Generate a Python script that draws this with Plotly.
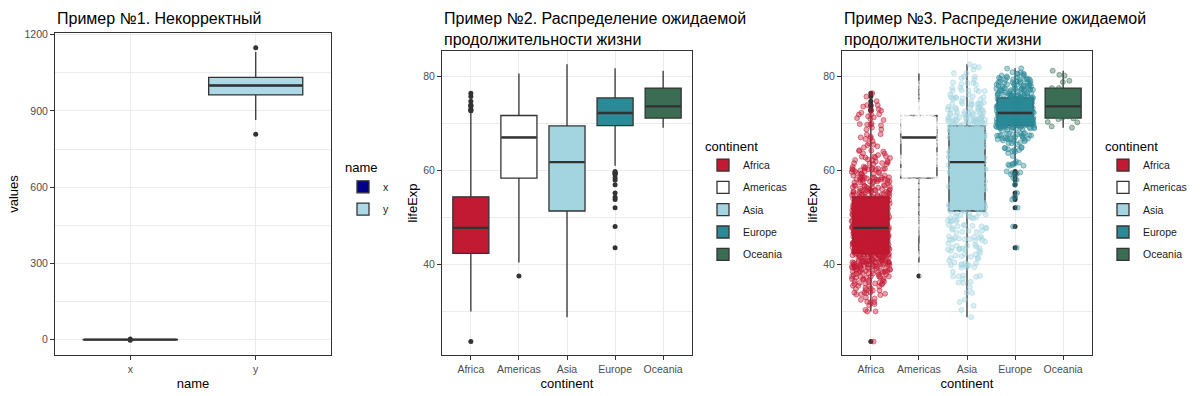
import numpy as np
import plotly.graph_objects as go
import plotly.express as px

# ---------------- Panel 1: precomputed box statistics
p1_names = ["x", "y"]
p1_q1 = [-0.67, 963]
p1_median = [0.0, 1000]
p1_q3 = [0.67, 1032]
p1_lowerfence = [-2.4, 864]
p1_upperfence = [2.4, 1132]
p1_outlier_names = ["x", "x", "y", "y"]
p1_outlier_values = [2.8, -2.7, 1149, 808]
p1_colors = ["#00008B", "#ADD8E6"]

# ---------------- Panels 2 & 3: gapminder life expectancy (bundled with plotly)
gm = px.data.gapminder()
continents = ["Africa", "Americas", "Asia", "Europe", "Oceania"]
africa_lifeexp = gm.loc[gm.continent == "Africa", "lifeExp"].tolist()
americas_lifeexp = gm.loc[gm.continent == "Americas", "lifeExp"].tolist()
asia_lifeexp = gm.loc[gm.continent == "Asia", "lifeExp"].tolist()
europe_lifeexp = gm.loc[gm.continent == "Europe", "lifeExp"].tolist()
oceania_lifeexp = gm.loc[gm.continent == "Oceania", "lifeExp"].tolist()
lifeexp_by_continent = [africa_lifeexp, americas_lifeexp, asia_lifeexp,
                        europe_lifeexp, oceania_lifeexp]
continent_colors = ["#C21A33", "#FFFFFF", "#A2D5E0", "#2C8A98", "#3B6D55"]
continent_rgb = [(194, 26, 51), (255, 255, 255), (162, 213, 224), (44, 138, 152), (59, 109, 85)]

titles = ["Пример №1. Некорректный",
          "Пример №2. Распределение ожидаемой<br>продолжительности жизни",
          "Пример №3. Распределение ожидаемой<br>продолжительности жизни"]

FONT = "Liberation Sans, Arial, sans-serif"
W, H = 1200, 396
BOXLINE = "#333333"


def px2x(p):
    return p / W


def px2y(p):
    return 1 - p / H


panels = [
    dict(x0=55, x1=331, y0=29, cats=p1_names, yr=[-62.3, 1207.8], dt=300, mdt=150,
         xt="name", yt="values"),
    dict(x0=442, x1=692, y0=47, cats=continents, yr=[20.65, 85.55], dt=20, mdt=10,
         xt="continent", yt="lifeExp"),
    dict(x0=842, x1=1092, y0=47, cats=continents, yr=[20.65, 85.55], dt=20, mdt=10,
         xt="continent", yt="lifeExp"),
]


def median_marker_size(k):
    # plotly's "line-ew" symbol is 1.4x its nominal size
    p = panels[k]
    box_width_px = 0.75 * (p["x1"] - p["x0"]) / (len(p["cats"]) + 0.2)
    return (box_width_px - 1.5) / 1.4


fig = go.Figure()

# Panel 1 boxes
for i, nm in enumerate(p1_names):
    fig.add_trace(go.Box(
        x=[nm], q1=[p1_q1[i]], median=[p1_median[i]], q3=[p1_q3[i]],
        lowerfence=[p1_lowerfence[i]], upperfence=[p1_upperfence[i]],
        name=nm, fillcolor=p1_colors[i], line=dict(color=BOXLINE, width=1.3),
        width=0.75, whiskerwidth=0, xaxis="x", yaxis="y",
        legend="legend", legendgroup="p1" + nm, boxpoints=False))
# thicker median lines (ggplot fatten = 2)
fig.add_trace(go.Scatter(
    x=p1_names, y=p1_median, mode="markers", hoverinfo="skip",
    marker=dict(symbol="line-ew", size=median_marker_size(0),
                line=dict(color=BOXLINE, width=2.4)),
    showlegend=False, xaxis="x", yaxis="y"))
fig.add_trace(go.Scatter(
    x=p1_outlier_names, y=p1_outlier_values, mode="markers",
    marker=dict(color=BOXLINE, size=5), showlegend=False,
    xaxis="x", yaxis="y"))

# Panels 2 and 3
medians = [float(np.median(v)) for v in lifeexp_by_continent]
for panel, (xa, ya, lg) in enumerate([("x2", "y2", "legend2"), ("x3", "y3", "legend3")]):
    for i, cont in enumerate(continents):
        vals = lifeexp_by_continent[i]
        fig.add_trace(go.Box(
            x=[cont] * len(vals), y=vals, name=cont,
            fillcolor=continent_colors[i], line=dict(color=BOXLINE, width=1.3),
            width=0.75, whiskerwidth=0, boxpoints="outliers",
            marker=dict(color=BOXLINE, size=5, line=dict(width=0)),
            xaxis=xa, yaxis=ya, legend=lg, legendgroup=lg + cont))
    fig.add_trace(go.Scatter(
        x=continents, y=medians, mode="markers", hoverinfo="skip",
        marker=dict(symbol="line-ew", size=median_marker_size(panel + 1),
                    line=dict(color=BOXLINE, width=2.4)),
        showlegend=False, xaxis=xa, yaxis=ya))
    if panel == 1:
        for i, cont in enumerate(continents):
            vals = lifeexp_by_continent[i]
            r, g, b = continent_rgb[i]
            fig.add_trace(go.Box(
                x=[cont] * len(vals), y=vals, name=cont,
                fillcolor="rgba(0,0,0,0)", line=dict(color="rgba(0,0,0,0)", width=0),
                width=0.8, boxpoints="all", jitter=1, pointpos=0,
                marker=dict(color=f"rgba({r},{g},{b},0.4)", size=5,
                            line=dict(color=f"rgba({r},{g},{b},0.5)", width=1)),
                xaxis=xa, yaxis=ya, showlegend=False, legendgroup=lg + cont))


axis_common = dict(showline=True, mirror=True, linecolor=BOXLINE, linewidth=1,
                   ticks="outside", ticklen=4, tickcolor=BOXLINE, tickwidth=1,
                   showgrid=True, gridcolor="#EBEBEB", gridwidth=1, zeroline=False,
                   tickfont=dict(family=FONT, size=10.5, color="#4D4D4D"),
                   fixedrange=True)
title_font = dict(family=FONT, size=13, color="#000000")

layout_axes = {}
for k, p in enumerate(panels):
    sfx = "" if k == 0 else str(k + 1)
    n = len(p["cats"])
    layout_axes["xaxis" + sfx] = dict(
        axis_common, domain=[px2x(p["x0"]), px2x(p["x1"])], type="category",
        categoryorder="array", categoryarray=p["cats"], range=[-0.6, n - 0.4],
        anchor="y" + sfx,
        title=dict(text=p["xt"], font=title_font, standoff=4))
    layout_axes["yaxis" + sfx] = dict(
        axis_common, domain=[px2y(355), px2y(p["y0"])], range=p["yr"],
        dtick=p["dt"], tick0=0, anchor="x" + sfx,
        minor=dict(dtick=p["mdt"], tick0=0, showgrid=True, gridcolor="#EBEBEB",
                   gridwidth=0.5, ticks=""),
        title=dict(text=p["yt"], font=title_font, standoff=2))

annotations = []
for k, p in enumerate(panels):
    annotations.append(dict(
        text=titles[k], xref="paper", yref="paper", x=px2x(p["x0"]), y=px2y(4),
        xanchor="left", yanchor="top", align="left", showarrow=False,
        font=dict(family=FONT, size=16, color="#000000")))

legend_common = dict(xanchor="left", yanchor="top", bgcolor="rgba(0,0,0,0)",
                     font=dict(family=FONT, size=10.5, color="#1A1A1A"),
                     tracegroupgap=3.3, traceorder="grouped",
                     title=dict(font=dict(family=FONT, size=13, color="#000000")))

fig.update_layout(
    width=W, height=H, margin=dict(l=0, r=0, t=0, b=0, pad=0),
    paper_bgcolor="white", plot_bgcolor="white", boxmode="overlay",
    font=dict(family=FONT, color="#000000"),
    annotations=annotations,
    legend=dict(legend_common, x=px2x(343), y=px2y(153), title_text="name"),
    legend2=dict(legend_common, x=px2x(703), y=px2y(131), title_text="continent"),
    legend3=dict(legend_common, x=px2x(1103), y=px2y(131), title_text="continent"),
    **layout_axes,
)

fig.write_html(
    "out.html",
    config={"displayModeBar": False},
    post_script="document.body.style.margin='0';document.body.style.padding='0';"
                "document.documentElement.style.overflow='hidden';",
)
